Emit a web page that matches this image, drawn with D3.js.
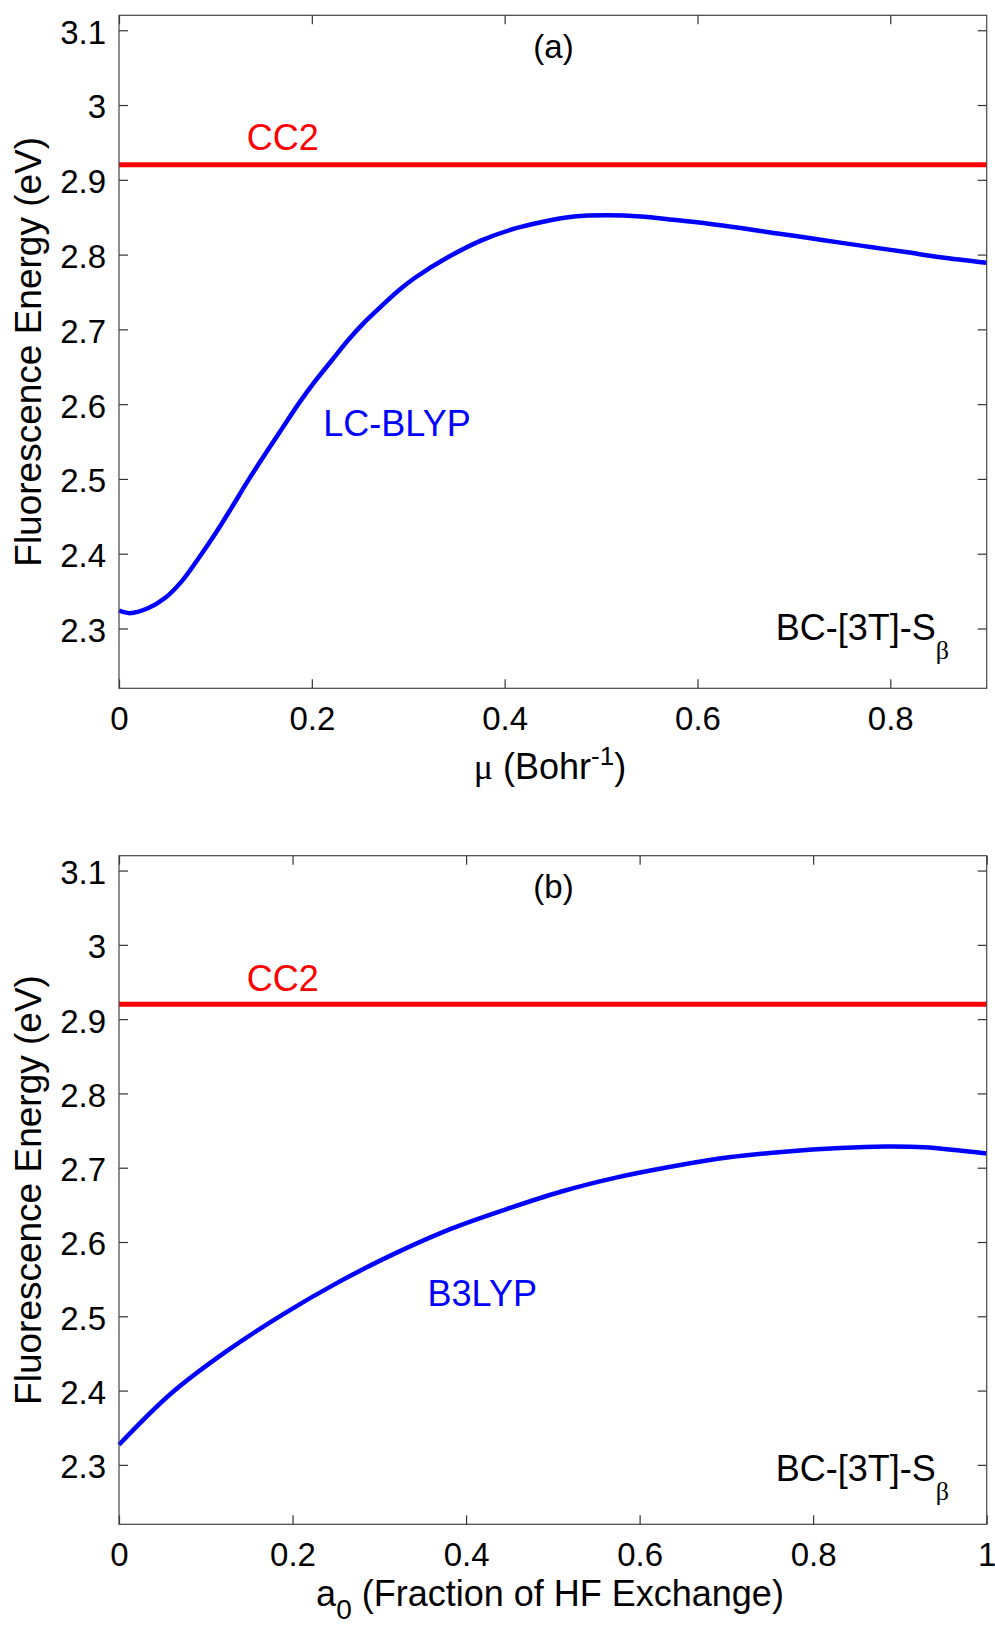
<!DOCTYPE html>
<html>
<head>
<meta charset="utf-8">
<script src="https://cdn.jsdelivr.net/npm/d3@7"></script>
<style>
  html, body { margin: 0; padding: 0; background: #fff; }
  svg { display: block; }
  text { font-family: "Liberation Sans", Arial, sans-serif; }
</style>
</head>
<body>
<div class="chart"></div>
<script>
// panel (a): LC-BLYP vs range separation parameter
const muValues = [0, 0.011, 0.03, 0.048, 0.065, 0.082, 0.1, 0.117, 0.134, 0.152, 0.169, 0.186, 0.203, 0.221, 0.238, 0.255, 0.273, 0.29, 0.307, 0.342, 0.376, 0.411, 0.44, 0.472, 0.506, 0.541, 0.575, 0.61, 0.645, 0.679, 0.714, 0.748, 0.783, 0.818, 0.852, 0.9];
const lcBlypEnergy = [2.324, 2.3205, 2.327, 2.341, 2.363, 2.393, 2.427, 2.462, 2.498, 2.534, 2.567, 2.600, 2.630, 2.659, 2.686, 2.710, 2.732, 2.752, 2.769, 2.797, 2.819, 2.835, 2.844, 2.851, 2.8525, 2.851, 2.8465, 2.8415, 2.8355, 2.829, 2.8225, 2.816, 2.8095, 2.803, 2.7965, 2.789];

// panel (b): B3LYP vs fraction of HF exchange
const a0Values = [0, 0.06, 0.124, 0.188, 0.253, 0.317, 0.381, 0.446, 0.51, 0.574, 0.639, 0.703, 0.767, 0.831, 0.883, 0.928, 1.0];
const b3lypEnergy = [2.327, 2.396, 2.453, 2.502, 2.546, 2.584, 2.617, 2.644, 2.668, 2.687, 2.702, 2.714, 2.7215, 2.7265, 2.7285, 2.7275, 2.719];

// reference value
const cc2Energy = 2.92;

const yTickValues = [2.3, 2.4, 2.5, 2.6, 2.7, 2.8, 2.9, 3.0, 3.1];
const xTicksA = [0, 0.2, 0.4, 0.6, 0.8];
const xTicksB = [0, 0.2, 0.4, 0.6, 0.8, 1];

const width = 995;
const height = 1626;
const plotLeft = 119;
const plotRight = 986.7;
const tickFont = 33;
const textFont = 36;

const svg = d3.select(".chart")
    .append("svg")
    .attr("width", width)
    .attr("height", height)
    .attr("viewBox", `0 0 ${width} ${height}`);

const panels = [
    { top: 15.3, bottom: 688.3, xDomain: [0, 0.9], xTicks: xTicksA, xs: muValues, ys: lcBlypEnergy,
      tag: "(a)", method: "LC-BLYP", methodX: 323.3, methodDy: 420.7, xlabel: "mu" },
    { top: 855.7, bottom: 1524.3, xDomain: [0, 1], xTicks: xTicksB, xs: a0Values, ys: b3lypEnergy,
      tag: "(b)", method: "B3LYP", methodX: 427.5, methodDy: 450, xlabel: "a0" }
];

function fmt(d) {
    return String(+d.toFixed(1));
}

panels.forEach((p) => {
    const x = d3.scaleLinear().domain(p.xDomain).range([plotLeft, plotRight]);
    const y = d3.scaleLinear().domain([2.22, 3.12]).range([p.bottom, p.top]);
    const g = svg.append("g");

    // data lines first, box and ticks on top
    g.append("line")
        .attr("x1", x(p.xDomain[0]))
        .attr("x2", x(p.xDomain[1]))
        .attr("y1", y(cc2Energy))
        .attr("y2", y(cc2Energy))
        .attr("stroke", "#ff0000")
        .attr("stroke-width", 5);

    const line = d3.line()
        .x((d, i) => x(p.xs[i]))
        .y((d) => y(d))
        .curve(d3.curveCatmullRom.alpha(0.5));

    g.append("path")
        .attr("d", line(p.ys))
        .attr("fill", "none")
        .attr("stroke", "#0000ff")
        .attr("stroke-width", 4.5)
        .attr("stroke-linejoin", "round");

    // axes: ticks pointing inward, labels only on left and bottom
    const left = g.append("g")
        .attr("transform", `translate(${plotLeft},0)`)
        .call(d3.axisLeft(y).tickValues(yTickValues).tickFormat(fmt).tickSizeInner(-9).tickSizeOuter(0).tickPadding(13));
    const right = g.append("g")
        .attr("transform", `translate(${plotRight},0)`)
        .call(d3.axisRight(y).tickValues(yTickValues).tickFormat("").tickSizeInner(-9).tickSizeOuter(0));
    const bottom = g.append("g")
        .attr("transform", `translate(0,${p.bottom})`)
        .call(d3.axisBottom(x).tickValues(p.xTicks).tickFormat(fmt).tickSizeInner(-9).tickSizeOuter(0).tickPadding(18.6));
    const top = g.append("g")
        .attr("transform", `translate(0,${p.top})`)
        .call(d3.axisTop(x).tickValues(p.xTicks).tickFormat("").tickSizeInner(-9).tickSizeOuter(0));

    [left, right, bottom, top].forEach((a) => {
        a.select(".domain").remove();
        a.selectAll(".tick line").attr("stroke", "#333").attr("stroke-width", 1.2);
        a.selectAll(".tick text")
            .attr("fill", "#000")
            .style("font-size", tickFont + "px")
            .style("font-family", "'Liberation Sans', Arial, sans-serif");
    });
    left.selectAll(".tick text").attr("dy", "0.39em");

    g.append("rect")
        .attr("x", plotLeft)
        .attr("y", p.top)
        .attr("width", plotRight - plotLeft)
        .attr("height", p.bottom - p.top)
        .attr("fill", "none")
        .attr("stroke", "#444")
        .attr("stroke-width", 1.2);

    // annotations
    g.append("text")
        .attr("x", 553.5)
        .attr("y", p.top + 42.5)
        .attr("text-anchor", "middle")
        .attr("font-size", tickFont)
        .text(p.tag);

    g.append("text")
        .attr("x", 246.7)
        .attr("y", p.top + 135)
        .attr("font-size", textFont)
        .attr("fill", "#ff0000")
        .text("CC2");

    g.append("text")
        .attr("x", p.methodX)
        .attr("y", p.top + p.methodDy)
        .attr("font-size", textFont)
        .attr("fill", "#0000ff")
        .text(p.method);

    const sys = g.append("text")
        .attr("x", 775.7)
        .attr("y", p.top + 625)
        .attr("font-size", textFont)
        .attr("fill", "#000");
    sys.append("tspan").text("BC-[3T]-S");
    sys.append("tspan")
        .attr("dy", 19)
        .attr("font-size", 26)
        .style("font-family", "'Liberation Serif', serif")
        .text("β");

    // axis titles
    g.append("text")
        .attr("transform", `translate(41,${(p.top + p.bottom) / 2}) rotate(-90)`)
        .attr("text-anchor", "middle")
        .attr("font-size", 37)
        .text("Fluorescence Energy (eV)");

    const xl = g.append("text")
        .attr("x", 550)
        .attr("text-anchor", "middle")
        .attr("font-size", textFont);
    if (p.xlabel === "mu") {
        xl.attr("y", p.bottom + 91);
        xl.append("tspan").style("font-family", "'Liberation Serif', serif").text("μ");
        xl.append("tspan").text(" (Bohr");
        xl.append("tspan").attr("dy", -14).attr("font-size", 26).text("-1");
        xl.append("tspan").attr("dy", 14).text(")");
    } else {
        xl.attr("y", p.bottom + 82);
        xl.append("tspan").text("a");
        xl.append("tspan").attr("dy", 13).attr("font-size", 28).text("0");
        xl.append("tspan").attr("dy", -13).text(" (Fraction of HF Exchange)");
    }
});
</script>
</body>
</html>
